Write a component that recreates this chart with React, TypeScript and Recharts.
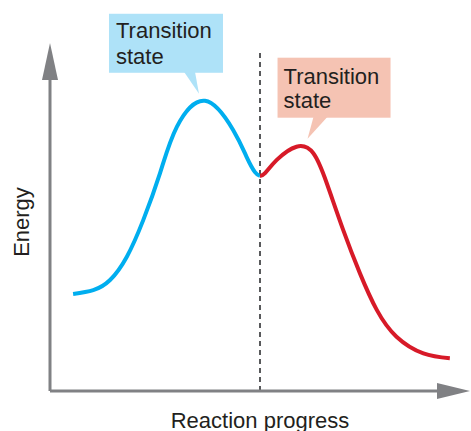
import React from 'react';
import { LineChart, Line, XAxis, YAxis, ReferenceLine, ReferenceDot } from 'recharts';

// Reaction progress (0–100) and energy (0–100)
const progressStep1 = [5.5, 10.3, 14.3, 18.3, 22.2, 26.2, 30.2, 36.9, 43.6, 46.8, 48.8, 50];
const energyStep1 = [27.9, 29.0, 31.9, 38.6, 49.1, 62.6, 75.9, 83.4, 75.0, 67.3, 62.9, 61.8];
const progressStep2 = [50, 51.2, 54.0, 58.7, 62.7, 65.9, 69.8, 73.8, 77.8, 82.5, 88.9, 95.2];
const energyStep2 = [61.8, 62.6, 66.4, 70.2, 68.3, 59.7, 46.3, 33.8, 23.3, 15.6, 10.8, 9.4];
const intermediateProgress = 50;
const dashedTop = 97.1;
const calloutLines = ['Transition', 'state'];
const xTitle = 'Reaction progress';
const yTitle = 'Energy';

const step1Data = progressStep1.map((x, i) => ({ x, e: energyStep1[i] }));
const step2Data = progressStep2.map((x, i) => ({ x, e: energyStep2[i] }));

const peakOf = (d: { x: number; e: number }[]) =>
  d.reduce((a, b) => (b.e > a.e ? b : a), d[0]);
const peak1 = peakOf(step1Data);
const peak2 = peakOf(step2Data);

const AXIS = '#808184';
const TEXT = '#231f20';
const FONT = '"Liberation Sans", Arial, Helvetica, sans-serif';

type CalloutCfg = {
  fill: string;
  box: [number, number, number, number]; // left, top, right, bottom offsets
  pointer: [number, number][];
  textX: number;
  baselines: [number, number];
};

const blueCallout: CalloutCfg = {
  fill: '#aee2f8',
  box: [-96, -87, 18, -28],
  pointer: [[-21, -29], [-10, -29], [-6, -7]],
  textX: -89,
  baselines: [-63, -37],
};
const redCallout: CalloutCfg = {
  fill: '#f5c3b3',
  box: [-19, -89, 94, -29],
  pointer: [[17, -30], [31, -30], [11, -8]],
  textX: -13,
  baselines: [-63, -39],
};

const Callout = ({ cx, cy, cfg }: { cx: number; cy: number; cfg: CalloutCfg }) => {
  const [l, t, r, b] = cfg.box;
  const pts = cfg.pointer.map(([dx, dy]) => `${cx + dx},${cy + dy}`).join(' ');
  return (
    <g>
      <rect x={cx + l} y={cy + t} width={r - l} height={b - t} fill={cfg.fill} />
      <polygon points={pts} fill={cfg.fill} />
      {calloutLines.map((s, i) => (
        <text key={s} x={cx + cfg.textX} y={cy + cfg.baselines[i]} fontSize={22} fontFamily={FONT} fill={TEXT}>
          {s}
        </text>
      ))}
    </g>
  );
};

const UpArrow = (p: any) => (
  <polygon points={`${p.cx},${p.cy} ${p.cx - 8},${p.cy + 37} ${p.cx + 8},${p.cy + 37}`} fill={AXIS} />
);
const RightArrow = (p: any) => (
  <polygon points={`${p.cx},${p.cy} ${p.cx - 33},${p.cy - 8} ${p.cx - 33},${p.cy + 8}`} fill={AXIS} />
);

export default function App() {
  return (
    <div style={{ position: 'absolute', left: 0, top: 0 }}>
      <LineChart width={471} height={431} margin={{ top: 43, right: 1, bottom: 40, left: 50 }}>
        <XAxis type="number" dataKey="x" domain={[0, 100]} hide allowDataOverflow />
        <YAxis type="number" domain={[0, 100]} hide allowDataOverflow />
        <ReferenceLine
          segment={[{ x: intermediateProgress, y: 0 }, { x: intermediateProgress, y: dashedTop }]}
          stroke="#58595b"
          strokeWidth={2}
          strokeDasharray="5 4"
        />
        <ReferenceLine segment={[{ x: 0, y: 0 }, { x: 0, y: 95 }]} stroke={AXIS} strokeWidth={3} />
        <ReferenceLine segment={[{ x: 0, y: 0 }, { x: 95, y: 0 }]} stroke={AXIS} strokeWidth={3} />
        <ReferenceDot x={0} y={100} r={1} shape={UpArrow} />
        <ReferenceDot x={100} y={0} r={1} shape={RightArrow} />
        <Line
          data={step1Data}
          dataKey="e"
          type="natural"
          stroke="#00aeef"
          strokeWidth={4}
          dot={false}
          isAnimationActive={false}
        />
        <Line
          data={step2Data}
          dataKey="e"
          type="natural"
          stroke="#d71a28"
          strokeWidth={4}
          dot={false}
          isAnimationActive={false}
        />
        <ReferenceDot
          x={peak1.x}
          y={peak1.e}
          r={1}
          shape={(p: any) => <Callout cx={p.cx} cy={p.cy} cfg={blueCallout} />}
        />
        <ReferenceDot
          x={peak2.x}
          y={peak2.e}
          r={1}
          shape={(p: any) => <Callout cx={p.cx} cy={p.cy} cfg={redCallout} />}
        />
        <text x={260} y={428} textAnchor="middle" fontSize={22} fontFamily={FONT} fill={TEXT}>
          {xTitle}
        </text>
        <text
          transform="translate(29,222) rotate(-90)"
          textAnchor="middle"
          fontSize={22}
          fontFamily={FONT}
          fill={TEXT}
        >
          {yTitle}
        </text>
      </LineChart>
    </div>
  );
}
